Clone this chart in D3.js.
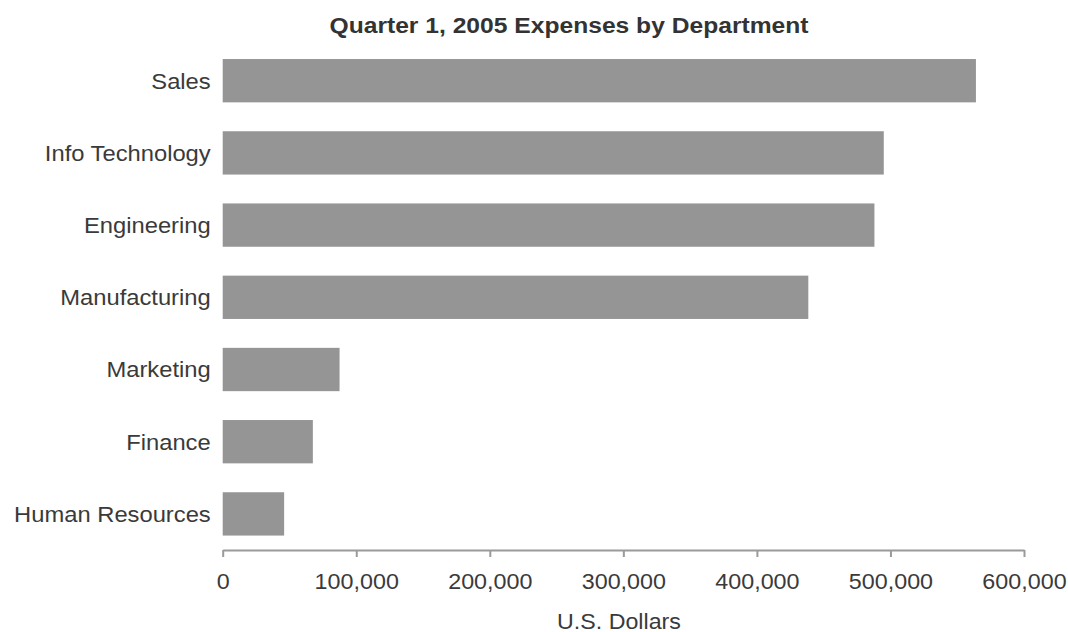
<!DOCTYPE html>
<html>
<head>
<meta charset="utf-8">
<script src="https://cdn.jsdelivr.net/npm/d3@7"></script>
<style>
  html, body { margin: 0; padding: 0; background: #fff; }
  svg { display: block; }
  text { font-family: "Liberation Sans", Arial, sans-serif; }
</style>
</head>
<body>
<svg id="chart" width="1068" height="632"></svg>
<script>
const categories = ["Sales", "Info Technology", "Engineering", "Manufacturing", "Marketing", "Finance", "Human Resources"];
const values = [564000, 495000, 488000, 438500, 87500, 67500, 46000];
const tickValues = [0, 100000, 200000, 300000, 400000, 500000, 600000];
const title = "Quarter 1, 2005 Expenses by Department";
const xTitle = "U.S. Dollars";

const svg = d3.select("#chart");
const textColor = "#3a3a3a";

const x = d3.scaleLinear().domain([0, 600000]).range([222.7, 1024]);
const y = d3.scaleBand().domain(categories).range([44.6, 550]).paddingInner(0.4).paddingOuter(0.2);

// bars
svg.append("g").selectAll("rect")
  .data(categories)
  .join("rect")
  .attr("x", x(0))
  .attr("y", d => y(d))
  .attr("width", (d, i) => x(values[i]) - x(0))
  .attr("height", y.bandwidth())
  .attr("fill", "#959595");

// y axis (labels only)
const SY = 1.08;
const yAxis = svg.append("g")
  .attr("transform", `translate(${x(0)},0)`)
  .call(d3.axisLeft(y).tickSize(0).tickPadding(11));
yAxis.select(".domain").remove();
yAxis.selectAll("text")
  .attr("font-size", 22)
  .attr("fill", textColor)
  .attr("font-family", "Liberation Sans, Arial, sans-serif")
  .attr("x", -12 / SY)
  .attr("dy", "0.36em")
  .attr("transform", `scale(${SY},1)`);

// x axis
const xAxis = svg.append("g")
  .attr("transform", "translate(0,550)")
  .call(d3.axisBottom(x).tickValues(tickValues).tickFormat(d3.format(",")).tickSize(7).tickSizeOuter(0).tickPadding(16));
xAxis.select(".domain").attr("stroke", "#9a9a9a").attr("stroke-width", 2.2);
xAxis.selectAll(".tick line").attr("stroke", "#9a9a9a").attr("stroke-width", 2);
xAxis.selectAll(".tick text")
  .attr("font-size", 22)
  .attr("fill", textColor)
  .attr("font-family", "Liberation Sans, Arial, sans-serif")
  .attr("transform", "scale(1.06,1)");

// title
svg.append("text")
  .attr("transform", "translate(569,32.5) scale(1.12,1)")
  .attr("text-anchor", "middle")
  .attr("font-size", 22)
  .attr("font-weight", "bold")
  .attr("fill", "#333")
  .text(title);

// x axis title
svg.append("text")
  .attr("transform", "translate(619,628.5) scale(1.08,1)")
  .attr("text-anchor", "middle")
  .attr("font-size", 21.5)
  .attr("fill", textColor)
  .text(xTitle);
</script>
</body>
</html>
